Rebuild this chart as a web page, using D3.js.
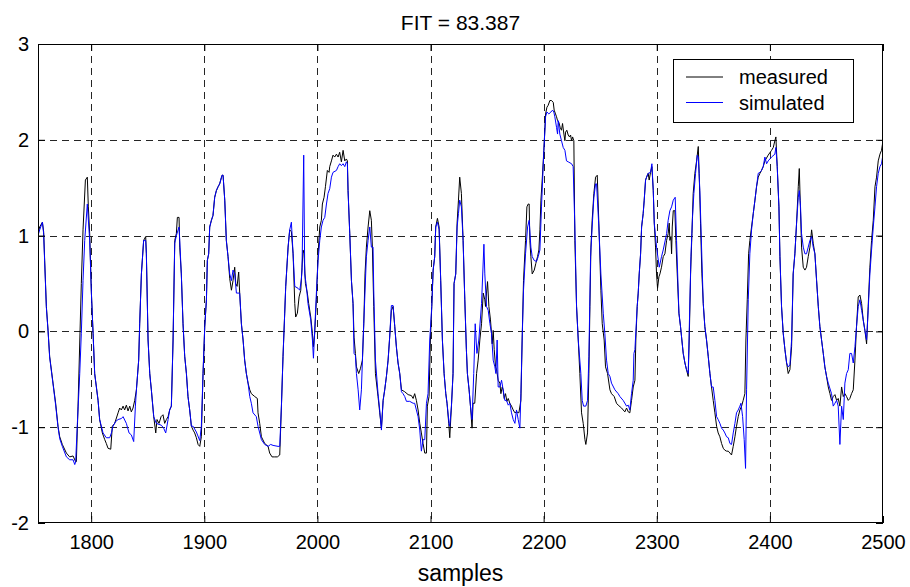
<!DOCTYPE html>
<html><head><meta charset="utf-8">
<script src="https://cdn.jsdelivr.net/npm/d3@7"></script>
<style>
body{margin:0;background:#fff;}
svg{display:block;}
text{font-family:Arial,"Liberation Sans",Helvetica,sans-serif;fill:#000;}
</style>
</head><body>
<svg id="chart" width="910" height="587"></svg>
<script>
const titleText = "FIT = 83.387";
const xLabelText = "samples";
const seriesNames = ["measured", "simulated"];
const seriesColors = ["#000000", "#0000ff"];
const xTicks = [1800, 1900, 2000, 2100, 2200, 2300, 2400, 2500];
const yTicks = [-2, -1, 0, 1, 2, 3];
const xDomain = [1753, 2500];
const yDomain = [-2, 3];

const measured = [
[1753,1.02],[1754.5,1.09],[1756.9,1.14],[1758,1.04],[1758.9,0.74],[1760.4,0.26],[1761.9,0.01],[1763.3,-0.26],[1766.3,-0.54],[1768.6,-0.75],[1770.7,-0.99],[1772.2,-1.10],[1774.5,-1.18],[1778.1,-1.27],[1781,-1.31],[1784,-1.30],[1786.3,-1.36],[1786.9,-1.36],[1788.4,-0.78],[1791.3,0.50],[1792.8,1.06],[1794.9,1.58],[1796.6,1.61],[1797.5,1.30],[1798.7,1.02],[1800.2,0.40],[1801.7,-0.02],[1803.1,-0.44],[1806.1,-0.72],[1807.5,-0.92],[1809.9,-1.06],[1812,-1.13],[1813.4,-1.17],[1814.9,-1.22],[1817.3,-1.23],[1818.7,-0.99],[1820.8,-0.96],[1823.8,-0.85],[1825.2,-0.80],[1826.7,-0.82],[1828.2,-0.78],[1829.6,-0.82],[1831.1,-0.77],[1832.6,-0.83],[1834.1,-0.78],[1835.5,-0.84],[1837,-0.80],[1838.5,-0.72],[1840,-0.61],[1842,-0.30],[1842.9,0.08],[1844.4,0.60],[1846.4,0.95],[1848.2,0.99],[1848.8,0.81],[1850.3,-0.09],[1851.8,-0.44],[1853.2,-0.61],[1855.3,-0.89],[1857.1,-1.06],[1858.2,-0.92],[1860,-0.96],[1861.8,-0.89],[1863.5,-0.87],[1865,-0.96],[1866.5,-0.92],[1868,-0.89],[1869.4,-0.82],[1870.9,-0.78],[1872.4,-0.09],[1873.9,0.95],[1875.3,1.02],[1876.2,1.19],[1877.7,1.19],[1878.3,0.88],[1879.7,0.60],[1881.2,0.08],[1882.7,-0.26],[1884.2,-0.44],[1885.6,-0.68],[1887.1,-0.82],[1888.6,-0.99],[1890.1,-1.03],[1891.5,-1.06],[1893,-1.11],[1894.5,-1.18],[1896,-1.20],[1897.4,-1.10],[1898.9,-0.44],[1900.4,0.05],[1901.9,0.33],[1902.7,0.74],[1903.9,0.81],[1904.8,1.09],[1906.3,1.16],[1907.7,1.21],[1909.2,1.40],[1910.7,1.47],[1912.2,1.51],[1913.6,1.54],[1915.7,1.63],[1916.6,1.63],[1918.1,1.37],[1919.5,0.95],[1921,0.78],[1922.5,0.55],[1924,0.43],[1925.4,0.53],[1926.9,0.67],[1927.8,0.50],[1929,0.47],[1930.4,0.62],[1931.3,0.40],[1932.8,0.08],[1934.3,-0.09],[1935.7,-0.30],[1937.2,-0.44],[1938.7,-0.54],[1940.2,-0.61],[1941.6,-0.65],[1944.6,-0.68],[1946.9,-0.70],[1947.5,-0.85],[1949,-0.96],[1950.5,-1.10],[1953.4,-1.17],[1956.4,-1.20],[1957.8,-1.27],[1959.9,-1.31],[1962.3,-1.31],[1964.6,-1.31],[1966.7,-1.29],[1968.2,-0.78],[1969.6,-0.26],[1971.1,0.19],[1972,0.47],[1974.1,0.88],[1975.5,1.06],[1977,1.04],[1978.5,0.81],[1980,0.29],[1980.8,0.15],[1982.3,0.19],[1983.8,0.36],[1985.3,0.43],[1986.4,0.67],[1987.3,0.85],[1988.2,0.81],[1989.4,0.50],[1991.1,0.40],[1992.3,0.29],[1994.1,0.15],[1995.6,-0.02],[1996.5,-0.16],[1997.6,-0.02],[1999.1,0.33],[2000.6,0.81],[2002.1,1.09],[2003.5,1.16],[2004.4,1.33],[2005.9,1.40],[2007.1,1.51],[2008.8,1.68],[2010.3,1.66],[2010.9,1.72],[2012.4,1.78],[2013.8,1.84],[2015.3,1.82],[2016.8,1.85],[2018.3,1.82],[2019.7,1.87],[2021.2,1.77],[2022.7,1.89],[2024.2,1.78],[2025.6,1.80],[2026.5,1.78],[2027.1,1.47],[2028.6,1.02],[2030.1,0.53],[2031.5,0.29],[2032.4,-0.06],[2033.6,-0.23],[2034.5,-0.37],[2036.5,-0.44],[2038,-0.39],[2039.8,-0.30],[2041,0.08],[2042.1,0.60],[2043.3,0.88],[2044.8,1.09],[2046.3,1.26],[2047.7,1.16],[2048.6,0.88],[2049.8,0.26],[2051.3,-0.44],[2053.6,-0.68],[2055.1,-0.85],[2056.6,-1.01],[2058.1,-0.72],[2059.5,-0.61],[2061,-0.47],[2062.5,-0.30],[2063.9,-0.06],[2065.4,0.22],[2066.9,0.26],[2068.4,0.05],[2069.8,-0.16],[2071.3,-0.33],[2072.8,-0.44],[2074.3,-0.61],[2077.2,-0.63],[2080.2,-0.66],[2083.1,-0.67],[2084.6,-0.70],[2086,-0.65],[2087.5,-0.72],[2089,-0.82],[2090.5,-0.96],[2091.9,-1.06],[2093.4,-1.17],[2094.9,-1.27],[2096.4,-1.27],[2097.2,-0.78],[2098.7,-0.68],[2099.9,-0.09],[2101.1,0.26],[2102.3,0.64],[2103.7,0.78],[2104.6,1.09],[2106.1,1.18],[2107.6,1.09],[2109,0.53],[2110.5,-0.09],[2112,-0.44],[2113.5,-0.65],[2114.6,-0.75],[2116.1,-0.96],[2117,-1.11],[2118.5,-0.78],[2119.9,-0.44],[2120.8,0.50],[2122.3,0.60],[2123.5,1.13],[2124.7,1.37],[2125.8,1.61],[2127.3,1.44],[2128.8,0.95],[2130.3,0.33],[2131.7,-0.19],[2132.6,-0.44],[2134.1,-0.61],[2135.3,-0.78],[2136.7,-1.01],[2137.6,-0.75],[2139.1,-0.75],[2140.7,-0.44],[2142.1,-0.30],[2143.6,-0.09],[2145.1,0.08],[2146.6,0.40],[2148,0.33],[2148.6,0.26],[2149.5,0.40],[2150.4,0.52],[2151.6,0.26],[2153,0.12],[2153.9,-0.02],[2154.5,-0.13],[2155.4,0.01],[2156.3,-0.19],[2157.5,-0.37],[2158.4,-0.40],[2159.8,-0.51],[2161.3,-0.54],[2162.2,-0.65],[2163.4,-0.58],[2164.2,-0.61],[2165.1,-0.70],[2166.3,-0.65],[2167.5,-0.73],[2168.7,-0.70],[2170.1,-0.75],[2171.6,-0.78],[2173.1,-0.82],[2174.6,-0.85],[2176,-0.84],[2178.1,-0.85],[2179.9,-0.72],[2181,-0.09],[2182.2,0.53],[2184,0.95],[2185.2,1.30],[2186.4,1.33],[2187.2,1.33],[2187.8,0.95],[2188.7,0.78],[2189.9,0.60],[2191.7,0.64],[2193.1,0.71],[2194.6,0.78],[2195.8,0.85],[2196.7,1.06],[2197.6,1.37],[2198.7,1.58],[2200.2,1.89],[2201.7,2.27],[2202.9,2.34],[2204,2.36],[2205.5,2.41],[2207,2.41],[2208.5,2.39],[2209.3,2.31],[2210.5,2.27],[2211.4,2.24],[2212.3,2.20],[2213.5,2.18],[2214.6,2.13],[2215.8,2.10],[2216.7,2.17],[2217.9,2.06],[2218.8,1.99],[2219.4,2.08],[2220.5,2.10],[2221.7,2.05],[2222.9,2.03],[2223.8,2.05],[2224.7,1.99],[2225.6,2.03],[2226.7,1.99],[2227.6,0.95],[2229.1,0.26],[2230.6,-0.09],[2232,-0.44],[2233.5,-0.85],[2235,-0.96],[2236.5,-1.13],[2237.3,-1.18],[2238.8,-1.06],[2240,-0.44],[2240.9,0.26],[2241.8,0.88],[2242.9,1.16],[2244.4,1.44],[2245.9,1.61],[2247.4,1.63],[2248.8,1.13],[2250.6,0.43],[2251.8,0.08],[2253.5,-0.09],[2254.7,-0.37],[2256.5,-0.44],[2258.6,-0.61],[2260,-0.65],[2262.4,-0.68],[2264.4,-0.75],[2265.9,-0.77],[2268.9,-0.80],[2270.3,-0.82],[2271.8,-0.84],[2273.3,-0.80],[2274.8,-0.84],[2276.2,-0.85],[2277.7,-0.72],[2279.2,-0.58],[2280.7,-0.51],[2281.5,-0.09],[2282.7,0.26],[2283.6,0.40],[2284.5,0.60],[2285.7,0.81],[2286.6,1.09],[2288,1.23],[2288.9,1.37],[2290.1,1.58],[2291,1.61],[2292.4,1.65],[2293.3,1.58],[2294.5,1.66],[2295.7,1.72],[2296.9,1.47],[2297.8,1.13],[2298.9,0.88],[2299.8,0.60],[2300.7,0.45],[2301.9,0.57],[2302.8,0.60],[2304.2,0.67],[2305.7,0.78],[2307.2,0.81],[2308.7,0.95],[2310.1,1.02],[2311,1.13],[2311.6,0.95],[2312.5,0.99],[2313.1,0.81],[2313.7,1.09],[2314.6,1.26],[2316,1.26],[2316.9,0.95],[2318.1,0.60],[2319.6,0.19],[2321,0.05],[2322.2,-0.09],[2323.4,-0.23],[2324.9,-0.33],[2326.3,-0.40],[2327.8,-0.47],[2328.7,-0.09],[2329.9,0.60],[2331.1,1.02],[2332.2,1.44],[2333.7,1.65],[2335.2,1.78],[2336.7,1.93],[2337.5,1.65],[2338.7,1.13],[2339.9,0.60],[2341.1,0.29],[2342.5,0.05],[2344,-0.09],[2345.5,-0.26],[2347,-0.44],[2348.4,-0.58],[2349.9,-0.72],[2351.4,-0.85],[2352.9,-0.99],[2354.3,-1.06],[2355.8,-1.10],[2357.3,-1.17],[2358.8,-1.22],[2360.2,-1.24],[2361.7,-1.25],[2363.2,-1.25],[2364.7,-1.27],[2366.1,-1.29],[2367.6,-1.20],[2369.1,-1.10],[2370.5,-0.99],[2372,-0.89],[2373.5,-0.82],[2375,-0.78],[2376.4,-0.72],[2377.9,-0.65],[2378.8,-0.09],[2380,0.33],[2381.2,0.81],[2382.3,0.95],[2383.8,1.09],[2385.3,1.23],[2386.8,1.37],[2388.2,1.51],[2389.7,1.61],[2391.2,1.65],[2392.6,1.68],[2394.1,1.72],[2395.6,1.78],[2398.5,1.84],[2401.5,1.89],[2403,1.92],[2404.4,1.99],[2405.3,2.03],[2406.5,1.72],[2408,1.30],[2408.9,0.78],[2410.3,0.26],[2411.8,-0.02],[2413.3,-0.19],[2414.8,-0.33],[2416.2,-0.44],[2417.7,-0.40],[2419.2,-0.16],[2420.6,0.60],[2422.1,0.81],[2423.6,1.13],[2425.1,1.51],[2426,1.70],[2426.8,1.37],[2428,0.88],[2429.5,0.67],[2431,0.64],[2432.4,0.67],[2433.9,0.78],[2435.4,0.88],[2436.9,1.06],[2438.3,0.92],[2439.8,0.81],[2441.3,0.53],[2442.8,0.26],[2444.2,0.05],[2445.7,-0.09],[2447.2,-0.23],[2448.6,-0.37],[2450.1,-0.47],[2451.6,-0.58],[2453.1,-0.65],[2454.5,-0.72],[2456,-0.68],[2457.5,-0.66],[2459,-0.72],[2460.4,-0.70],[2461.9,-0.78],[2463.4,-0.58],[2464.9,-0.68],[2466.3,-0.65],[2467.8,-0.68],[2469.3,-0.72],[2470.7,-0.70],[2472.2,-0.65],[2473.7,-0.61],[2475.2,-0.30],[2476.6,0.05],[2478.1,0.36],[2479.6,0.38],[2481.1,0.29],[2482.5,0.12],[2484,0.01],[2485.5,-0.13],[2486.9,0.26],[2488.4,0.67],[2489.9,0.95],[2491.4,1.16],[2492.9,1.51],[2494.3,1.61],[2495.8,1.78],[2497.3,1.85],[2498.7,1.89],[2500,1.99]
];

const simulated = [
[1753,1.0],[1754.5,1.06],[1756.9,1.14],[1758,1.02],[1758.9,0.72],[1760.4,0.25],[1761.9,0.0],[1763.3,-0.27],[1766.3,-0.55],[1768.6,-0.77],[1770.7,-1.0],[1772.2,-1.12],[1774.5,-1.2],[1778.1,-1.31],[1781,-1.34],[1784,-1.34],[1785.5,-1.39],[1786.3,-1.36],[1787.8,-0.96],[1789.9,-0.44],[1791.3,-0.02],[1792.8,0.53],[1794.3,0.95],[1796.6,1.33],[1798.7,0.95],[1800.2,0.40],[1801.7,-0.02],[1803.1,-0.44],[1806.1,-0.72],[1807.5,-0.92],[1810.5,-1.06],[1813.4,-1.11],[1816.4,-1.11],[1817.9,-1.06],[1819.3,-0.99],[1821.7,-0.94],[1823.8,-0.92],[1826.7,-0.91],[1828.2,-0.89],[1831.1,-0.96],[1833.5,-1.06],[1835.5,-1.08],[1837.6,-1.15],[1839.1,-0.78],[1840,-0.61],[1842,-0.30],[1842.9,0.08],[1844.4,0.60],[1846.4,0.95],[1848.2,0.95],[1848.8,0.81],[1850.3,-0.09],[1851.8,-0.44],[1853.2,-0.61],[1855.3,-0.89],[1857.6,-0.96],[1862.1,-0.98],[1864.1,-1.01],[1865.9,-1.06],[1868,-0.92],[1869.4,-0.82],[1870.9,-0.78],[1872.4,-0.09],[1873.9,0.92],[1875.3,1.0],[1877.7,1.09],[1878.3,0.95],[1879.7,0.60],[1881.2,0.08],[1882.7,-0.26],
[1884.2,-0.44],[1885.6,-0.68],[1887.1,-0.82],[1888.6,-0.99],[1890.1,-0.99],[1893,-1.05],[1896,-1.14],[1897.4,-0.99],[1898.9,-0.44],[1900.4,0.05],[1901.9,0.33],[1902.7,0.74],[1903.9,0.81],[1904.8,1.09],[1906.3,1.16],[1907.7,1.21],[1909.2,1.40],[1910.7,1.47],[1912.2,1.51],[1913.6,1.54],[1915.7,1.63],[1916.6,1.63],[1918.1,1.37],[1919.5,0.95],[1921,0.78],[1922.5,0.60],[1924,0.53],[1925.4,0.64],[1926.9,0.60],[1928.4,0.40],[1929.8,0.40],[1931.3,0.40],[1932.8,0.08],[1934.3,-0.09],[1935.7,-0.30],[1937.2,-0.44],[1938.7,-0.54],[1940.2,-0.68],[1941.6,-0.75],[1943.1,-0.85],[1946,-0.89],[1947.5,-0.99],[1950.5,-1.13],[1953.4,-1.18],[1956.4,-1.20],[1958.7,-1.18],[1960.8,-1.19],[1965.2,-1.20],[1966.7,-1.20],[1968.2,-0.78],[1969.6,-0.26],[1971.1,0.19],[1972,0.47],[1974.1,0.88],[1975.5,1.06],[1977,1.14],[1978.5,0.81],[1980,0.47],[1982.9,0.45],[1984.4,0.43],[1985.8,0.54],[1986.4,0.64],[1987.9,1.84],[1988.8,0.60],[1990.3,0.47],[1991.7,0.29],[1994.1,0.12],[1995.6,-0.09],[1996.5,-0.28],[1997.6,0.01],[1999.1,0.40],[2000.6,0.74],[2002.1,0.95],[2003.5,1.09],[2005,1.16],[2006.5,1.19],[2008,1.33],[2009.4,1.44],[2010.9,1.49],[2012.4,1.61],[2013.8,1.66],[2016.8,1.68],[2018.3,1.72],[2019.7,1.75],[2021.2,1.73],[2022.7,1.75],[2024.2,1.72],[2025.6,1.77],[2026.5,1.75],[2027.1,1.47],[2028.6,1.02],[2030.1,0.53],[2031.5,0.29],[2032.4,-0.23],[2033.6,-0.25],[2034.5,-0.44],[2036,-0.61],[2037.4,-0.82],[2038.9,-0.61],[2040.4,-0.09],[2041.8,0.33],[2043.3,0.78],[2044.8,0.95],[2046.3,1.09],[2047.7,0.88],[2049.2,0.88],[2049.8,0.43],[2051.3,-0.30],[2053.6,-0.65],[2055.1,-0.82],[2056.6,-1.03],[2058.1,-0.72],[2059.5,-0.61],[2061,-0.47],[2062.5,-0.30],[2063.9,-0.06],[2065.4,0.27],[2066.9,0.27],[2068.4,0.05],[2069.8,-0.16],[2071.3,-0.33],[2072.8,-0.44],[2074.3,-0.63],[2075.7,-0.65],[2077.2,-0.68],[2078.7,-0.73],[2081.6,-0.73],[2084.6,-0.75],[2086,-0.75],[2087.5,-0.82],[2089,-0.89],[2090.5,-1.03],[2091.9,-1.25],[2093.4,-1.13],[2094.9,-1.13],[2096.4,-0.75],[2097.8,-0.65],[2099.3,-0.09],[2101.1,0.26],[2102.3,0.64],[2103.7,0.78],[2104.6,1.09],[2106.1,1.14],[2107.6,1.06],[2109,0.53],[2110.5,-0.09],[2112,-0.44],[2113.5,-0.65],[2114.6,-0.75],[2116.4,-0.96],[2117,-0.99],[2118.5,-0.78],[2119.9,-0.44],[2120.8,0.50],[2122.3,0.60],[2123.5,1.09],[2124.7,1.23],[2125.8,1.37],[2127.3,1.30],[2128.8,0.95],[2130.3,0.33],[2131.7,-0.19],[2132.6,-0.44],[2134.1,-0.61],[2135.3,-0.78],[2136.7,-0.92],[2138.2,-0.44],[2139.5,0.08],[2141,-0.23],[2142.7,-0.09],[2145.1,0.29],[2147.2,0.91],[2148,0.60],[2149.5,0.26],[2151,0.22],[2152.5,0.08],[2153.9,-0.02],[2155.4,-0.30],[2156.9,-0.37],[2157.8,-0.44],[2158.9,-0.09],[2159.8,-0.58],[2161.3,-0.58],[2162.8,-0.51],[2164.2,-0.61],[2165.7,-0.72],[2167.2,-0.72],[2168.7,-0.77],[2170.1,-0.75],[2171.6,-0.85],[2173.1,-0.92],[2174.6,-0.96],[2176,-0.82],[2177.5,-0.92],[2179,-1.01],[2179.9,-0.65],[2181,-0.09],[2182.2,0.43],[2184,0.81],[2185.8,1.09],[2187.2,1.16],[2188.7,0.88],[2189.9,0.78],[2191.7,0.74],[2193.7,0.73],[2195.2,0.78],[2196.7,0.85],[2198.1,1.30],[2200.2,1.89],[2201.7,2.24],[2202.9,2.29],[2204.6,2.27],[2206.4,2.29],[2207.9,2.31],[2209,2.29],[2209.9,2.24],[2211.4,2.13],[2212.3,2.06],[2212.9,2.20],[2214.3,2.06],[2215.8,1.99],[2217.3,1.92],[2218.8,1.89],[2220.2,1.78],[2221.7,1.77],[2224.7,1.75],[2226.1,1.72],[2227.6,1.09],[2229.1,0.26],[2230.6,-0.09],[2232.9,-0.44],[2234.1,-0.72],[2235.3,-0.78],[2237.3,-0.78],[2238.8,-0.72],[2240,-0.26],[2241.5,0.78],[2242.9,1.09],[2244.4,1.40],[2245.9,1.54],[2246.8,1.54],[2248.8,1.09],[2250.6,0.60],[2252.7,0.19],[2254.1,-0.02],[2255.6,-0.30],[2257.1,-0.44],[2258.6,-0.47],[2260,-0.54],[2263,-0.61],[2265.9,-0.65],[2267.4,-0.68],[2270.3,-0.72],[2273.3,-0.78],[2274.8,-0.77],[2276.2,-0.82],[2277.7,-0.65],[2279.2,-0.51],[2279.8,-0.23],[2280.7,-0.19],[2282.7,0.26],[2283.6,0.40],[2284.5,0.60],[2285.7,0.81],[2286.6,1.09],[2288,1.23],[2288.9,1.37],[2290.1,1.58],[2291,1.61],[2292.4,1.65],[2294.5,1.66],[2295.7,1.75],[2296.9,1.47],[2297.8,1.13],[2299.8,0.88],[2302.2,0.67],[2304.2,0.78],[2305.7,0.85],[2308.7,1.02],[2310.1,1.16],[2311.6,1.26],[2313.1,1.30],[2314.6,1.37],[2316.3,1.40],[2317.5,0.95],[2319.6,0.19],[2321,0.05],[2322.2,-0.09],[2323.4,-0.23],[2324.9,-0.33],[2326.3,-0.40],[2327.8,-0.44],[2328.7,0.01],[2330.2,0.78],[2331.6,1.19],[2332.8,1.44],[2334.3,1.65],[2335.8,1.84],[2336.7,1.82],[2338.1,1.47],[2339.6,0.88],[2341.1,0.29],[2342.5,0.05],[2344,-0.09],[2345.5,-0.26],[2347,-0.44],[2348.4,-0.58],[2349.9,-0.58],[2351.4,-0.72],[2352.9,-0.89],[2354.3,-0.92],[2355.8,-0.96],[2357.3,-1.01],[2358.8,-1.03],[2360.2,-1.06],[2361.7,-1.10],[2363.2,-1.11],[2364.7,-1.17],[2366.1,-1.18],[2367.6,-1.06],[2369.1,-0.96],[2370.5,-0.85],[2372,-0.82],[2373.5,-0.78],[2374.4,-0.75],[2375.9,-0.89],[2377.3,-1.13],[2378.5,-1.43],[2379.4,-0.61],[2380.9,0.33],[2382.3,0.81],[2383.8,1.06],[2385.3,1.23],[2386.8,1.37],[2388.2,1.51],[2389.7,1.65],[2391.2,1.66],[2392.6,1.68],[2394.1,1.72],[2395.6,1.82],[2397.1,1.75],[2398.5,1.78],[2401.5,1.82],[2404.4,1.85],[2405.3,1.92],[2406.5,1.72],[2408,1.30],[2408.9,0.78],[2410.3,0.26],[2411.8,-0.02],[2413.3,-0.19],[2414.8,-0.33],[2416.2,-0.37],[2417.7,-0.35],[2419.2,-0.09],[2420.6,0.60],[2422.1,0.81],[2423.6,1.13],[2425.1,1.40],[2426,1.47],[2427.1,1.30],[2428,1.02],[2429.5,0.88],[2431,0.81],[2432.4,0.81],[2433.9,0.88],[2435.4,0.95],[2436.9,0.99],[2438.3,0.88],[2439.8,0.81],[2441.3,0.53],[2442.8,0.26],[2444.2,0.05],[2445.7,-0.09],[2447.2,-0.23],[2448.6,-0.37],[2450.1,-0.47],[2451.6,-0.54],[2454.5,-0.65],[2456,-0.78],[2457.5,-0.75],[2459,-0.72],[2460.4,-0.78],[2461.9,-1.18],[2463.4,-0.78],[2464.9,-0.92],[2466.3,-0.54],[2467.8,-0.44],[2469.3,-0.40],[2470.7,-0.23],[2472.2,-0.23],[2473.7,-0.33],[2475.2,-0.16],[2476.6,0.05],[2478.1,0.26],[2479.6,0.33],[2481.1,0.22],[2482.5,0.12],[2484,0.01],[2485.5,-0.09],[2486.9,0.22],[2488.4,0.60],[2489.9,0.85],[2491.4,1.09],[2492.9,1.30],[2494.3,1.51],[2495.8,1.65],[2497.3,1.72],[2498.7,1.75],[2500,1.85]
];

const svg = d3.select("#chart");
const plot = {left: 38, top: 44, right: 883, bottom: 523};
const x = d3.scaleLinear().domain(xDomain).range([plot.left, plot.right]);
const y = d3.scaleLinear().domain(yDomain).range([plot.bottom, plot.top]);

svg.append("rect").attr("width", 910).attr("height", 587).attr("fill", "#fff");

svg.append("defs").append("clipPath").attr("id", "clip")
  .append("rect").attr("x", plot.left).attr("y", plot.top)
  .attr("width", plot.right - plot.left).attr("height", plot.bottom - plot.top);

// grid
const grid = svg.append("g").attr("stroke", "#000").attr("stroke-width", 1)
  .attr("stroke-dasharray", "7,5").attr("opacity", 0.85).attr("shape-rendering", "crispEdges");
grid.selectAll("line.v").data(xTicks.filter(t => t < xDomain[1])).join("line")
  .attr("class", "v")
  .attr("x1", d => Math.round(x(d)) + 0.5).attr("x2", d => Math.round(x(d)) + 0.5)
  .attr("y1", plot.top).attr("y2", plot.bottom);
grid.selectAll("line.h").data(yTicks.filter(t => t > yDomain[0] && t < yDomain[1])).join("line")
  .attr("class", "h")
  .attr("x1", plot.left).attr("x2", plot.right)
  .attr("y1", d => Math.round(y(d)) + 0.5).attr("y2", d => Math.round(y(d)) + 0.5);

// series lines
const line = d3.line().x(d => x(d[0])).y(d => y(d[1]));
const lines = svg.append("g").attr("clip-path", "url(#clip)").attr("fill", "none")
  .attr("stroke-width", 1).attr("stroke-linejoin", "round");
[measured, simulated].forEach((s, i) => {
  lines.append("path").datum(s).attr("d", line).attr("stroke", seriesColors[i]);
});

// axes
const fs = 20;
const axB = svg.append("g").attr("transform", `translate(0,${plot.bottom})`)
  .call(d3.axisBottom(x).tickValues(xTicks).tickSizeInner(-7).tickSizeOuter(0).tickPadding(12).tickFormat(d3.format("d")));
const axT = svg.append("g").attr("transform", `translate(0,${plot.top})`)
  .call(d3.axisTop(x).tickValues(xTicks).tickSizeInner(-7).tickSizeOuter(0).tickFormat(""));
const axL = svg.append("g").attr("transform", `translate(${plot.left},0)`)
  .call(d3.axisLeft(y).tickValues(yTicks).tickSizeInner(-7).tickSizeOuter(0).tickPadding(9).tickFormat(d3.format("d")));
const axR = svg.append("g").attr("transform", `translate(${plot.right},0)`)
  .call(d3.axisRight(y).tickValues(yTicks).tickSizeInner(-7).tickSizeOuter(0).tickFormat(""));
[axB, axT, axL, axR].forEach(a => {
  a.select(".domain").remove();
  a.selectAll("line").attr("stroke", "#000");
  a.selectAll("text").attr("font-size", fs).attr("font-family", "Arial, 'Liberation Sans', sans-serif").attr("fill", "#000");
});
axL.selectAll("text").text(d => d < 0 ? "-" + Math.abs(d) : d);

// box
svg.append("rect").attr("x", plot.left + 0.5).attr("y", plot.top + 0.5)
  .attr("width", plot.right - plot.left - 1).attr("height", plot.bottom - plot.top - 1)
  .attr("fill", "none").attr("stroke", "#000").attr("stroke-width", 1);

// title & axis label
svg.append("text").attr("x", (plot.left + plot.right) / 2).attr("y", 30)
  .attr("text-anchor", "middle").attr("font-size", 21).text(titleText);
svg.append("text").attr("x", (plot.left + plot.right) / 2).attr("y", 581)
  .attr("text-anchor", "middle").attr("font-size", 23).text(xLabelText);

// legend
const lg = svg.append("g");
lg.append("rect").attr("x", 673.5).attr("y", 59.5).attr("width", 180).attr("height", 63)
  .attr("fill", "#fff").attr("stroke", "#000").attr("stroke-width", 1);
seriesNames.forEach((name, i) => {
  const yy = 77 + i * 25.5;
  lg.append("line").attr("x1", 686).attr("x2", 723).attr("y1", yy).attr("y2", yy)
    .attr("stroke", seriesColors[i]).attr("stroke-width", 1);
  lg.append("text").attr("x", 739).attr("y", yy + 7).attr("font-size", 20).text(name);
});
</script>
</body></html>
